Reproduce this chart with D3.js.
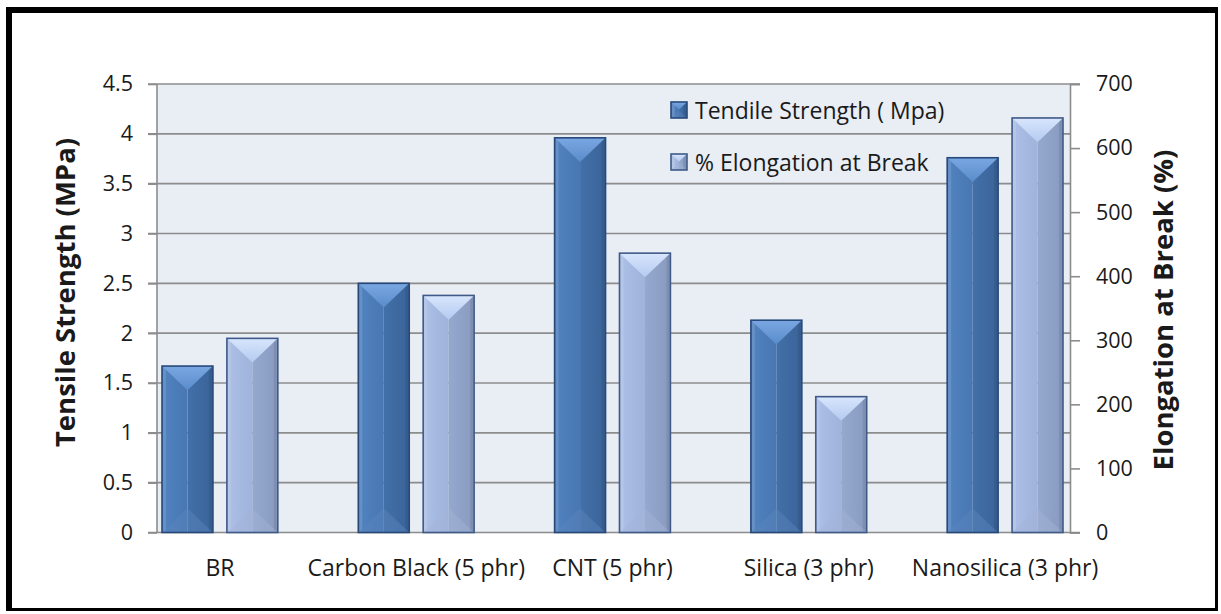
<!DOCTYPE html>
<html>
<head>
<meta charset="utf-8">
<script src="https://cdnjs.cloudflare.com/ajax/libs/d3/7.8.5/d3.min.js"></script>
<style>
  html, body { margin: 0; padding: 0; background: #ffffff; }
  svg { display: block; }
  text { font-family: "Open Sans", Lato, sans-serif; fill: #1a1a1a; }
</style>
</head>
<body>
<svg id="chart" width="1221" height="614"></svg>
<script>
// Tensile properties of BR compounds with different fillers
const categories = ["BR", "Carbon Black (5 phr)", "CNT (5 phr)", "Silica (3 phr)", "Nanosilica (3 phr)"];
const tensileStrength = [1.67, 2.50, 3.96, 2.13, 3.76];      // MPa, left axis
const elongationAtBreak = [303, 370, 436, 212, 647];         // %, right axis
const leftTicks = [0, 0.5, 1, 1.5, 2, 2.5, 3, 3.5, 4, 4.5];
const rightTicks = [0, 100, 200, 300, 400, 500, 600, 700];
const seriesNames = ["Tendile Strength ( Mpa)", "% Elongation at Break"];

const svg = d3.select("#chart");

const plot = { left: 157, right: 1070, top: 84, bottom: 532.5 };

const yLeft = d3.scaleLinear().domain([0, 4.5]).range([plot.bottom, plot.top]);
const yRight = d3.scaleLinear().domain([0, 700]).range([plot.bottom, plot.top]);

const x0 = d3.scaleBand().domain(categories).range([162, 1063]).paddingInner(0.41).paddingOuter(0);
const x1 = d3.scaleBand().domain([0, 1]).range([0, x0.bandwidth()]).paddingInner(0.215).paddingOuter(0);

// gradients for bevelled bars
const defs = svg.append("defs");
const palettes = [
  { left: ["#5283c0", "#4877b2"], right: ["#4270a8", "#3a6399"], top: ["#7aa7e2", "#5a8ccb"], bottom: "#5a86bd", edge: "#27497a" },
  { left: ["#adc0e6", "#9fb3db"], right: ["#95a8cd", "#889abf"], top: ["#d8e6fd", "#b4caf0"], bottom: "#a3b4d6", edge: "#3f5a88" }
];
palettes.forEach((p, i) => {
  ["left", "right", "top"].forEach(k => {
    const g = defs.append("linearGradient").attr("id", `g${i}${k}`)
      .attr("x1", 0).attr("y1", 0).attr("x2", k === "top" ? 0 : 1).attr("y2", k === "top" ? 1 : 0);
    g.append("stop").attr("offset", "0%").attr("stop-color", p[k][0]);
    g.append("stop").attr("offset", "100%").attr("stop-color", p[k][1]);
  });
});

// plot background
svg.append("rect")
  .attr("x", plot.left).attr("y", plot.top)
  .attr("width", plot.right - plot.left).attr("height", plot.bottom - plot.top)
  .attr("fill", "#e9edf4");

// horizontal gridlines from left axis ticks
svg.append("g").selectAll("line").data(leftTicks).join("line")
  .attr("x1", 148).attr("x2", d => (d === 0 || d === 4.5) ? 1080 : plot.right)
  .attr("y1", d => yLeft(d)).attr("y2", d => yLeft(d))
  .attr("stroke", "#8c8c8c").attr("stroke-width", 1.6);

// left axis line
svg.append("line").attr("x1", plot.left).attr("x2", plot.left)
  .attr("y1", plot.top).attr("y2", plot.bottom)
  .attr("stroke", "#8c8c8c").attr("stroke-width", 1.6);

// right axis
const rightAxis = d3.axisRight(yRight).tickValues(rightTicks).tickSize(10).tickPadding(16)
  .tickFormat(d3.format("d"));
const gR = svg.append("g").attr("transform", `translate(${plot.right},0)`).call(rightAxis);
gR.select(".domain").attr("stroke", "#8c8c8c").attr("stroke-width", 1.6);
gR.selectAll(".tick line").attr("stroke", "#8c8c8c").attr("stroke-width", 1.6);
gR.selectAll(".tick text").attr("font-size", 21.5).attr("font-family", "Open Sans").attr("fill", "#1a1a1a");

// left tick labels
const leftAxis = d3.axisLeft(yLeft).tickValues(leftTicks).tickSize(9).tickPadding(15)
  .tickFormat(d => String(d));
const gL = svg.append("g").attr("transform", `translate(${plot.left},0)`).call(leftAxis);
gL.select(".domain").remove();
gL.selectAll(".tick line").attr("stroke", "#8c8c8c").attr("stroke-width", 1.6);
gL.selectAll(".tick text").attr("font-size", 21.5).attr("font-family", "Open Sans").attr("fill", "#1a1a1a");

// bevelled bar
function bevelBar(g, x, y, w, h, pi) {
  const p = palettes[pi];
  const d = Math.min(w / 2, h) * 0.95;
  const b = g.append("g");
  b.append("rect").attr("x", x).attr("y", y).attr("width", w / 2).attr("height", h).attr("fill", `url(#g${pi}left)`);
  b.append("rect").attr("x", x + w / 2).attr("y", y).attr("width", w / 2).attr("height", h).attr("fill", `url(#g${pi}right)`);
  b.append("rect").attr("x", x + 1).attr("y", y).attr("width", 3).attr("height", h).attr("fill", "#ffffff").attr("opacity", 0.12);
  b.append("rect").attr("x", x + w - 4).attr("y", y).attr("width", 3).attr("height", h).attr("fill", "#000000").attr("opacity", 0.08);
  b.append("path")
    .attr("d", `M${x},${y + h}L${x + w},${y + h}L${x + w / 2},${y + h - d}Z`)
    .attr("fill", p.bottom).attr("opacity", 0.45);
  b.append("path")
    .attr("d", `M${x},${y}L${x + w},${y}L${x + w / 2},${y + d}Z`)
    .attr("fill", `url(#g${pi}top)`);
  b.append("rect").attr("x", x).attr("y", y).attr("width", w).attr("height", h)
    .attr("fill", "none").attr("stroke", p.edge).attr("stroke-width", 1.6);
}

const barsG = svg.append("g");
categories.forEach((c, i) => {
  const w = x1.bandwidth();
  const xa = x0(c) + x1(0);
  const ya = yLeft(tensileStrength[i]);
  bevelBar(barsG, xa, ya, w, plot.bottom - ya, 0);
  const xb = x0(c) + x1(1);
  const yb = yRight(elongationAtBreak[i]);
  bevelBar(barsG, xb, yb, w, plot.bottom - yb, 1);
});

// category labels
svg.append("g").selectAll("text").data(categories).join("text")
  .attr("x", d => x0(d) + x0.bandwidth() / 2).attr("y", 576)
  .attr("text-anchor", "middle").attr("font-size", 23)
  .text(d => d);

// axis titles
svg.append("text")
  .attr("transform", `translate(75,292.5) rotate(-90)`)
  .attr("text-anchor", "middle").attr("font-size", 27.5).attr("font-weight", "bold")
  .text("Tensile Strength (MPa)");
svg.append("text")
  .attr("transform", `translate(1173,310) rotate(-90)`)
  .attr("text-anchor", "middle").attr("font-size", 27.5).attr("font-weight", "bold")
  .text("Elongation at Break (%)");

// legend
const legend = svg.append("g");
seriesNames.forEach((name, i) => {
  const top = i === 0 ? 102 : 154;
  bevelBar(legend, 671, top, 16, 16, i);
  legend.append("text").attr("x", 695).attr("y", top + 17).attr("font-size", 23).text(name);
});

// frame
svg.append("rect").attr("x", 6).attr("y", 7).attr("width", 6).attr("height", 604).attr("fill", "#000");
svg.append("rect").attr("x", 6).attr("y", 7).attr("width", 1212).attr("height", 6).attr("fill", "#000");
svg.append("rect").attr("x", 1215).attr("y", 7).attr("width", 3).attr("height", 604).attr("fill", "#000");
svg.append("rect").attr("x", 6).attr("y", 608).attr("width", 1212).attr("height", 3).attr("fill", "#000");
</script>
</body>
</html>
